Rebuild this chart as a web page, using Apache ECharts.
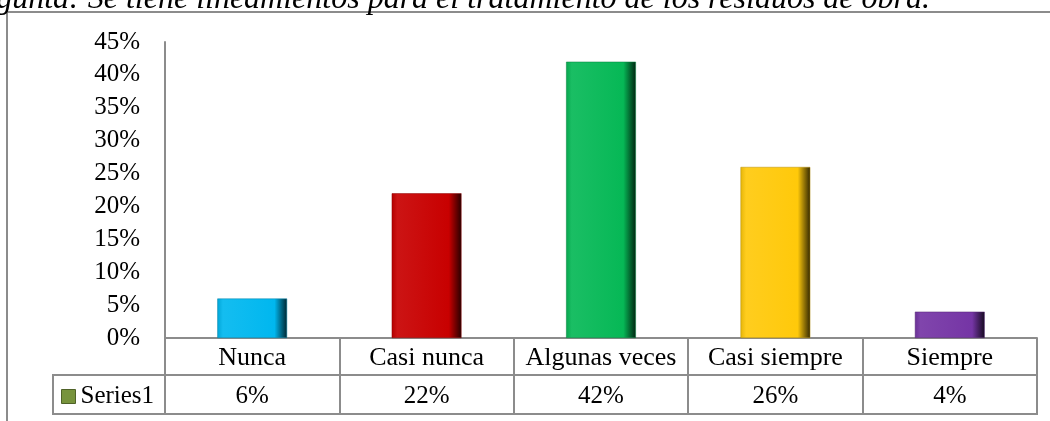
<!DOCTYPE html>
<html>
<head>
<meta charset="utf-8">
<script src="https://cdn.jsdelivr.net/npm/echarts@6/dist/echarts.min.js"></script>
<style>
  html, body { margin: 0; padding: 0; background: #fff; }
  #chart { width: 1050px; height: 421px; }
</style>
</head>
<body>
<div id="chart"></div>
<script>
const categories = ['Nunca', 'Casi nunca', 'Algunas veces', 'Casi siempre', 'Siempre']
const values = [6, 22, 42, 26, 4]
const seriesName = 'Series1'
const titleText = 'Pregunta: Se tiene lineamientos para el tratamiento de los residuos de obra.'
const barColors = ['#00b7ef', '#c80000', '#06b856', '#ffc90a', '#7535a5']

const serif = "'Liberation Serif', 'Times New Roman', serif"
const lineColor = '#8c8c8c'
const fs = 25

// darken / lighten a hex colour
const shade = (hex, f) => {
  let n = parseInt(hex.slice(1), 16)
  let r = (n >> 16) & 255, g = (n >> 8) & 255, b = n & 255
  const m = (c) => Math.max(0, Math.min(255, Math.round(f < 0 ? c * (1 + f) : c + (255 - c) * f)))
  return 'rgb(' + m(r) + ',' + m(g) + ',' + m(b) + ')'
}

const bevel = (c) => new echarts.graphic.LinearGradient(0, 0, 1, 0, [
  { offset: 0, color: shade(c, -0.1) },
  { offset: 0.08, color: shade(c, 0.08) },
  { offset: 0.82, color: c },
  { offset: 0.92, color: shade(c, -0.45) },
  { offset: 1, color: shade(c, -0.8) }
])

var chartDom = document.getElementById('chart')
var myChart = echarts.init(chartDom)

const grid = { left: 165, right: 13, top: 42, bottom: 83 }
const rowH = 37

var option = {
  animation: false,
  textStyle: { fontFamily: serif },
  grid: grid,
  legend: {
    left: 56,
    top: 379,
    icon: 'rect',
    itemWidth: 14,
    itemHeight: 14,
    data: [{ name: seriesName, itemStyle: { color: '#77933c', borderColor: '#4f6228', borderWidth: 1 } }],
    textStyle: { fontFamily: serif, fontSize: fs, color: '#000' }
  },
  xAxis: [
    {
      type: 'category',
      data: categories,
      position: 'bottom',
      axisLine: { lineStyle: { color: lineColor, width: 2 } },
      axisTick: { show: true, inside: false, length: rowH, lineStyle: { color: lineColor, width: 2 } },
      axisLabel: { interval: 0, margin: 7, fontFamily: serif, fontSize: 26, color: '#000' },
      z: 1
    },
    {
      type: 'category',
      data: values.map((v) => v + '%'),
      position: 'bottom',
      offset: rowH,
      axisLine: { lineStyle: { color: lineColor, width: 2 } },
      axisTick: { show: true, length: rowH + 2, lineStyle: { color: lineColor, width: 2 } },
      axisLabel: { interval: 0, margin: 9, fontFamily: serif, fontSize: fs, color: '#000' }
    }
  ],
  yAxis: {
    type: 'value',
    min: 0,
    max: 45,
    interval: 5,
    axisLine: { show: true, lineStyle: { color: lineColor, width: 2 } },
    axisTick: { show: false },
    splitLine: { show: false },
    axisLabel: { formatter: '{value}%', margin: 25, fontFamily: serif, fontSize: fs, color: '#000' }
  },
  series: [
    {
      name: seriesName,
      type: 'bar',
      xAxisIndex: 0,
      barWidth: '40%',
      itemStyle: { color: '#77933c' },
      data: values.map((v, i) => ({
        value: v,
        itemStyle: { color: bevel(barColors[i]), borderColor: shade(barColors[i], -0.3), borderWidth: 0.5 }
      })),
      z: 3
    }
  ],
  graphic: [
    {
      type: 'rect',
      shape: { x: 7, y: 12, width: 1200, height: 600 },
      style: { fill: 'none', stroke: lineColor, lineWidth: 2 },
      silent: true,
      z: -1
    },
    {
      type: 'rect',
      shape: { x: 53, y: 421 - grid.bottom + rowH, width: 1050 - grid.right - 53, height: rowH + 2 },
      style: { fill: 'none', stroke: lineColor, lineWidth: 2 },
      silent: true,
      z: 0
    },
    {
      type: 'text',
      x: 930,
      y: 16,
      style: {
        text: titleText,
        textAlign: 'right',
        textVerticalAlign: 'bottom',
        font: 'italic 32px ' + serif,
        fill: '#000'
      },
      silent: true
    }
  ]
}

option && myChart.setOption(option)
window.onresize = () => {
  myChart.resize()
}
</script>
</body>
</html>
